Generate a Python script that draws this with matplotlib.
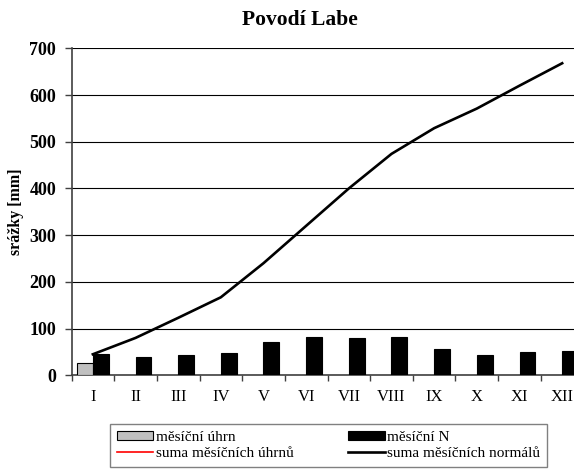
import numpy as np
import matplotlib
matplotlib.use('Agg')
import matplotlib.pyplot as plt

# monthly precipitation, Elbe basin [mm]
months = ['I', 'II', 'III', 'IV', 'V', 'VI', 'VII', 'VIII', 'IX', 'X', 'XI', 'XII']
monthly_total = [26]                      # measured so far (January only)
monthly_normal = [45, 39, 43, 48, 72, 81, 79, 81, 56, 43, 50, 51]
cum_total = [26]
cum_normal = [45, 80, 123, 167, 240, 320, 400, 474, 529, 571, 620, 668]

plt.rcParams['font.family'] = ['Liberation Serif', 'DejaVu Serif']

fig = plt.figure(figsize=(5.74, 4.74), dpi=100)
ax = fig.add_axes([71.5 / 574, 98.7 / 474, 512 / 574, 327 / 474])

x = np.arange(len(months))
w = 0.37
b_total = ax.bar(x[:len(monthly_total)] - w / 2, monthly_total, width=w, color='#c0c0c0',
                 edgecolor='black', linewidth=0.8, zorder=3)
b_normal = ax.bar(x + w / 2, monthly_normal, width=w, color='black', edgecolor='black',
                  linewidth=0.8, zorder=3)
l_total, = ax.plot(x[:len(cum_total)], cum_total, color='red', lw=1.2, zorder=4)
l_normal, = ax.plot(x, cum_normal, color='black', lw=1.9, zorder=4)

ax.set_xlim(-0.5, len(months) - 0.5)
ax.set_ylim(0, 700)
ax.set_yticks(range(0, 701, 100))
ax.yaxis.grid(True, color='black', lw=0.8)
ax.set_axisbelow(True)

ax.set_xticks(x)
ax.set_xticklabels(months, fontsize=12)
ax.set_xticks(np.arange(-0.5, len(months)), minor=True)
ax.tick_params(axis='x', which='major', length=0, pad=10)
ax.tick_params(axis='x', which='minor', length=4, width=1, color='#404040', direction='out')
ax.tick_params(axis='y', length=5, width=1, color='#404040', pad=6, labelsize=13)
for lab in ax.get_yticklabels():
    lab.set_fontweight('bold')

for s in ['top', 'right']:
    ax.spines[s].set_visible(False)
for s in ['left', 'bottom']:
    ax.spines[s].set_color('#404040')
    ax.spines[s].set_linewidth(1.2)

ax.set_ylabel('srážky [mm]', fontsize=11.5, fontweight='bold')
ax.yaxis.set_label_coords(-0.093, 0.5)

fig.text(300 / 574, 1 - 20 / 474, 'Povodí Labe', ha='center', va='center',
         fontsize=15.5, fontweight='bold')

# two columns, filled column by column
handles = [b_total, l_total, b_normal, l_normal]
labels = ['měsíční úhrn', 'suma měsíčních úhrnů', 'měsíční N', 'suma měsíčních normálů']
leg = fig.legend(handles, labels, ncol=2, loc='upper left', mode='expand',
                 bbox_to_anchor=(109.7 / 574, -0.05, (547 - 109.7) / 574, 1 - 424 / 474 + 0.05),
                 borderaxespad=0, fontsize=11, frameon=True, fancybox=False,
                 handlelength=2.4, handleheight=0.5, labelspacing=0.2,
                 handletextpad=0.15, borderpad=0.45)
leg.get_frame().set_edgecolor('#606060')
leg.get_frame().set_linewidth(1.0)

fig.savefig('out.png', dpi=100)
